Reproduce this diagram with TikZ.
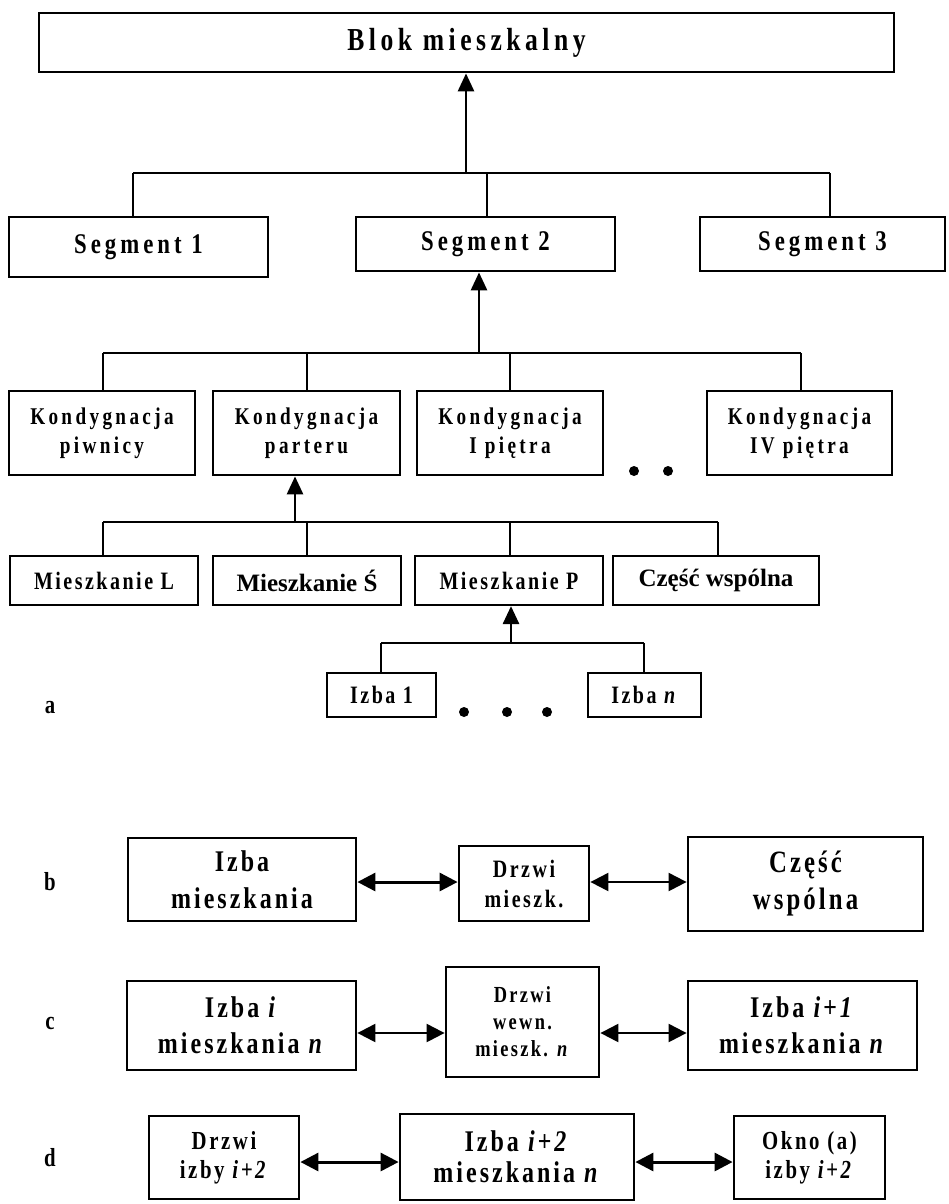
\documentclass[tikz,border=0pt]{standalone}
\usepackage{fontspec}
\setmainfont{Liberation Serif}
\newfontfamily\cnd[FakeStretch=0.8,LetterSpace=10]{Liberation Serif}
\newfontfamily\cndw[FakeStretch=0.8,LetterSpace=14]{Liberation Serif}
\usetikzlibrary{arrows.meta}
\tikzset{
  box/.style={draw, line width=2.8pt, inner sep=0pt, align=center},
  tbox/.style={box, line width=2.2pt},
  fs/.style 2 args={font=\cnd\bfseries\fontsize{#1}{#2}\selectfont},
  fw/.style 2 args={font=\cndw\bfseries\fontsize{#1}{#2}\selectfont},
  ns/.style 2 args={font=\bfseries\fontsize{#1}{#2}\selectfont},
  bar/.style={line width=2.3pt},
  drop/.style={line width=1.5pt},
  up/.style={line width=2.8pt, -{Triangle[length=18pt,width=16pt]}},
  dbl/.style={line width=3pt, {Triangle[length=18pt,width=18pt]}-{Triangle[length=18pt,width=18pt]}},
  dblthin/.style={dbl, line width=2.2pt},
  lbl/.style={fs={26}{26}},
  dot/.style={fill=black}
}
\begin{document}
\begin{tikzpicture}[x=1pt,y=-1pt]
\path[use as bounding box] (0,0) rectangle (948,1204);

% level 0
\node[box, fw={32}{38}, minimum width=855pt, minimum height=59pt] (blok) at (466.5,42.5) {Blok mieszkalny};

% segments
\node[box, fw={28.5}{34}, minimum width=259pt, minimum height=60pt] (s1) at (138.5,247) {Segment 1};
\node[box, fw={28.5}{34}, minimum width=259pt, minimum height=54pt] (s2) at (485.5,244) {Segment 2};
\node[box, fw={28.5}{34}, minimum width=245pt, minimum height=54pt] (s3) at (822.5,244) {Segment 3};

% kondygnacje
\node[box, fw={24}{29}, minimum width=186pt, minimum height=84pt] (k1) at (102,433) {Kondygnacja\\piwnicy};
\node[box, fw={24}{29}, minimum width=187pt, minimum height=84pt] (k2) at (306.5,433) {Kondygnacja\\parteru};
\node[box, fw={24}{29}, minimum width=186pt, minimum height=84pt] (k3) at (510,433) {Kondygnacja\\I piętra};
\node[box, fw={24}{29}, minimum width=185pt, minimum height=84pt] (k4) at (799.5,433) {Kondygnacja\\IV piętra};
\fill[dot] (634,471) circle[radius=5pt];
\fill[dot] (668,471) circle[radius=5pt];

% mieszkania
\node[tbox, fs={25}{30}, minimum width=188pt, minimum height=49pt] (m1) at (104,580.5) {Mieszkanie L};
\node[tbox, ns={25}{30}, minimum width=188pt, minimum height=49pt] (m2) at (307,580.5) {Mieszkanie Ś};
\node[tbox, fs={25}{30}, minimum width=188pt, minimum height=49pt] (m3) at (509,580.5) {Mieszkanie P};
\node[tbox, ns={25}{30}, minimum width=206pt, minimum height=49pt] (m4) at (716,580.5) {Część wspólna};

% izby
\node[tbox, fs={25}{30}, minimum width=109pt, minimum height=44pt] (i1) at (381.5,695) {Izba 1};
\node[tbox, fs={25}{30}, minimum width=113pt, minimum height=44pt] (in) at (644.5,695) {Izba \textit{n}};
\fill[dot] (464,712) circle[radius=5pt];
\fill[dot] (507,712) circle[radius=5pt];
\fill[dot] (547,712) circle[radius=5pt];

% tree connectors
\coordinate (j1) at (466,173);
\coordinate (j1l) at (133,173);
\coordinate (j1m) at (487,173);
\coordinate (j1r) at (830,173);
\draw[bar] (j1l) -- (j1r);
\draw[up] (j1) -- (j1 |- blok.south);
\draw[drop] (j1l) -- (j1l |- s1.north);
\draw[drop] (j1m) -- (j1m |- s2.north);
\draw[drop] (j1r) -- (j1r |- s3.north);

\coordinate (j2) at (479,353);
\coordinate (j2a) at (103,353);
\coordinate (j2b) at (307,353);
\coordinate (j2c) at (510,353);
\coordinate (j2d) at (801,353);
\draw[bar] (j2a) -- (j2d);
\draw[up] (j2) -- (j2 |- s2.south);
\draw[drop] (j2a) -- (j2a |- k1.north);
\draw[drop] (j2b) -- (j2b |- k2.north);
\draw[drop] (j2c) -- (j2c |- k3.north);
\draw[drop] (j2d) -- (j2d |- k4.north);

\coordinate (j3) at (295,522);
\coordinate (j3a) at (103,522);
\coordinate (j3b) at (307,522);
\coordinate (j3c) at (510,522);
\coordinate (j3d) at (718,522);
\draw[bar] (j3a) -- (j3d);
\draw[up] (j3) -- (j3 |- k2.south);
\draw[drop] (j3a) -- (j3a |- m1.north);
\draw[drop] (j3b) -- (j3b |- m2.north);
\draw[drop] (j3c) -- (j3c |- m3.north);
\draw[drop] (j3d) -- (j3d |- m4.north);

\coordinate (j4) at (511,643);
\coordinate (j4a) at (381,643);
\coordinate (j4b) at (644,643);
\draw[bar] (j4a) -- (j4b);
\draw[up] (j4) -- (j4 |- m3.south);
\draw[drop] (j4a) -- (j4a |- i1.north);
\draw[drop] (j4b) -- (j4b |- in.north);

% row labels
\node[lbl] (la) at (50,708) {a};
\node[lbl] (lb) at (50,882) {b};
\node[lbl] (lc) at (50,1023) {c};
\node[lbl] (ld) at (50,1158) {d};

% row b
\node[box, fs={30}{37}, minimum width=228pt, minimum height=83pt] (im) at (242,879.5) {Izba\\mieszkania};
\node[box, fs={25}{30}, minimum width=130pt, minimum height=75pt] (dm) at (524,883.5) {Drzwi\\mieszk.};
\node[box, fs={31}{37}, minimum width=235pt, minimum height=94pt] (cw) at (805.5,884) {Część\\wspólna};
\coordinate (yb) at (0,882);
\draw[dbl] (im.east |- yb) -- (dm.west |- yb);
\draw[dblthin] (dm.east |- yb) -- (cw.west |- yb);

% row c
\node[box, fs={30}{36}, minimum width=229pt, minimum height=89pt] (ci) at (241.5,1025.5) {Izba \textit{i}\\mieszkania \textit{n}};
\node[box, fs={23}{27}, minimum width=153pt, minimum height=110pt] (dw) at (522.5,1022) {Drzwi\\wewn.\\mieszk. \textit{n}};
\node[box, fs={30}{36}, minimum width=229pt, minimum height=89pt] (cj) at (802.5,1025.5) {Izba \textit{i+1}\\mieszkania \textit{n}};
\coordinate (yc) at (0,1033);
\draw[dblthin] (ci.east |- yc) -- (dw.west |- yc);
\draw[dblthin] (dw.east |- yc) -- (cj.west |- yc);

% row d
\node[box, fs={26}{29}, minimum width=150pt, minimum height=83pt] (di) at (224,1157.5) {Drzwi\\izby \textit{i+2}};
\node[box, fs={30}{31}, minimum width=234pt, minimum height=86pt] (iz) at (517,1157) {Izba \textit{i+2}\\mieszkania \textit{n}};
\node[box, fs={26}{29}, minimum width=151pt, minimum height=83pt] (ok) at (809.5,1157.5) {Okno (a)\\izby \textit{i+2}};
\coordinate (yd) at (0,1162);
\draw[dbl] (di.east |- yd) -- (iz.west |- yd);
\draw[dbl] (iz.east |- yd) -- (ok.west |- yd);
\end{tikzpicture}
\end{document}
